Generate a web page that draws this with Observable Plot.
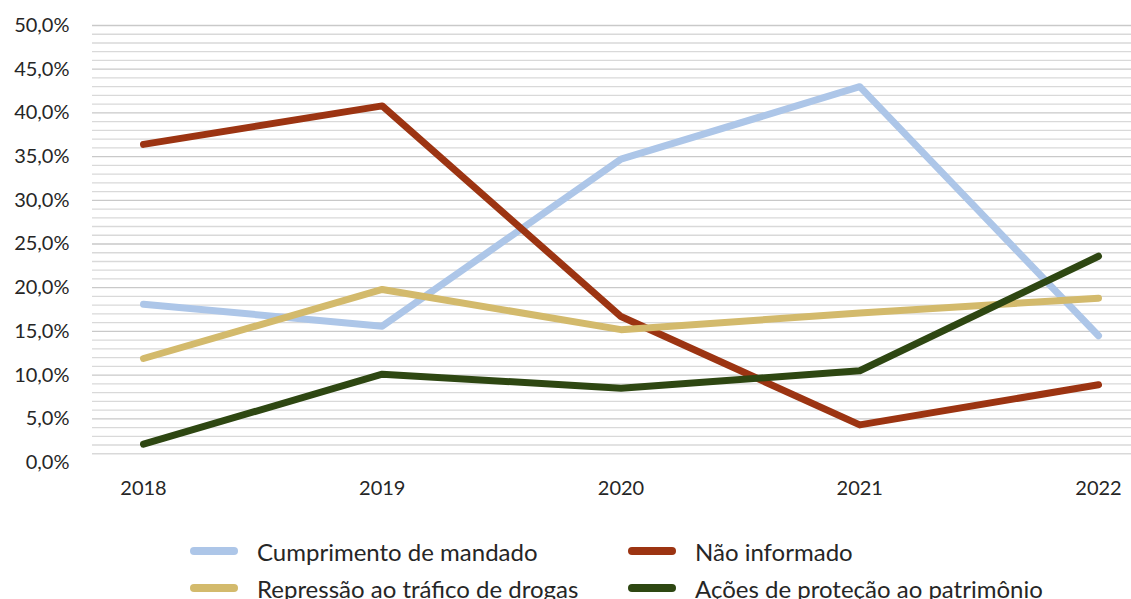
<!DOCTYPE html>
<html>
<head>
<meta charset="utf-8">
<script src="https://cdn.jsdelivr.net/npm/d3@7"></script>
<script src="https://cdn.jsdelivr.net/npm/@observablehq/plot@0.6"></script>
<style>
  html, body { margin: 0; padding: 0; background: #fff; }
  body { width: 1131px; height: 599px; overflow: hidden; font-family: Lato, "Noto Sans", sans-serif; }
  #legend { position: relative; height: 79px; font-family: Lato, sans-serif; font-size: 24px; color: #262626; }
  .item { position: absolute; display: flex; align-items: center; white-space: nowrap; height: 30px; }
  .sw { width: 48px; height: 8px; border-radius: 4px; margin-right: 19px; }
</style>
</head>
<body>
<div id="chart"></div>
<div id="legend"></div>
<script>
const years = [2018, 2019, 2020, 2021, 2022];
const seriesNames = ["Cumprimento de mandado", "Não informado", "Repressão ao tráfico de drogas", "Ações de proteção ao patrimônio"];
const cumprimento = [18.1, 15.6, 34.7, 43.0, 14.5];
const naoInformado = [36.4, 40.8, 16.7, 4.3, 8.9];
const repressao = [11.9, 19.8, 15.2, 17.1, 18.8];
const acoes = [2.1, 10.1, 8.5, 10.5, 23.6];
const colors = ["#adc6e8", "#9c3412", "#d3ba6c", "#2e4712"];
const yTicks = [0, 5, 10, 15, 20, 25, 30, 35, 40, 45, 50];
const minorGrid = d3.range(1, 51).filter(v => v % 5 !== 0);
const majorGrid = yTicks.filter(v => v > 0);

const allSeries = [cumprimento, naoInformado, repressao, acoes];
const data = [];
allSeries.forEach((vals, i) => vals.forEach((v, j) => data.push({year: years[j], value: v, series: seriesNames[i]})));

const fmt = v => v.toFixed(1).replace(".", ",") + "%";

const chart = Plot.plot({
  width: 1131,
  height: 520,
  marginLeft: 92,
  marginRight: 0,
  marginTop: 25,
  marginBottom: 58,
  style: {fontFamily: "Lato, sans-serif", fontSize: "20px", color: "#262626", background: "#fff"},
  x: {type: "linear", domain: [2018, 2022], insetLeft: 51, insetRight: 33, axis: null, label: null},
  y: {domain: [0, 50], axis: null, label: null},
  color: {domain: seriesNames, range: colors},
  marks: [
    Plot.ruleY(minorGrid, {stroke: "#d9d9d9", strokeWidth: 1.3}),
    Plot.ruleY(majorGrid, {stroke: "#c9c9c9", strokeWidth: 1.3}),
    Plot.axisY(yTicks, {tickSize: 0, tickPadding: 23, tickFormat: fmt, fontSize: 20, fill: "#262626", label: null}),
    Plot.axisX(years, {tickSize: 0, tickPadding: 18, tickFormat: d => String(d), fontSize: 20, fill: "#262626", label: null}),
    Plot.line(data, {x: "year", y: "value", z: "series", stroke: "series", strokeWidth: 7, strokeLinecap: "round", strokeLinejoin: "round"})
  ]
});
document.getElementById("chart").appendChild(chart);

const legend = document.getElementById("legend");
const positions = [[190, 551], [628, 551], [190, 588], [628, 588]];
seriesNames.forEach((name, i) => {
  const it = document.createElement("div");
  it.className = "item";
  it.style.left = positions[i][0] + "px";
  it.style.top = (positions[i][1] - 520 - 15) + "px";
  const sw = document.createElement("div");
  sw.className = "sw";
  sw.style.background = colors[i];
  const tx = document.createElement("span");
  tx.textContent = name;
  it.appendChild(sw);
  it.appendChild(tx);
  legend.appendChild(it);
});
</script>
</body>
</html>
